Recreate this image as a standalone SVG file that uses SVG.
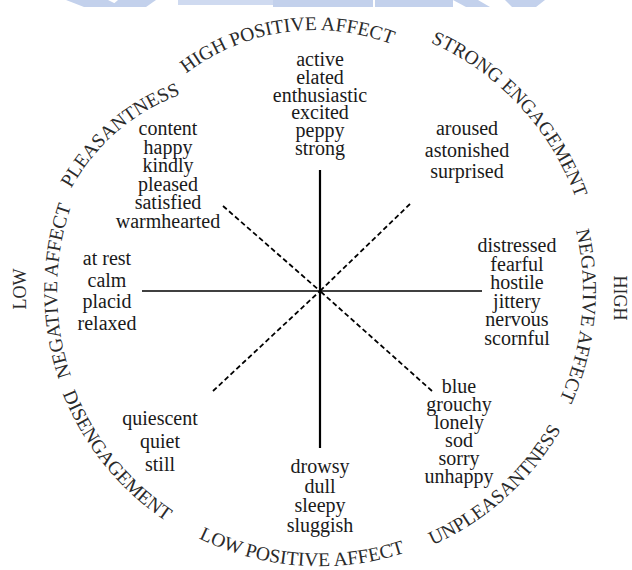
<svg xmlns="http://www.w3.org/2000/svg" xmlns:xlink="http://www.w3.org/1999/xlink" width="632" height="570" viewBox="0 0 632 570">
<style>
.w{font-family:"Liberation Serif","Times New Roman",serif;font-size:20px;fill:#1a1a1a;text-anchor:middle}
.c{font-family:"Liberation Serif","Times New Roman",serif;font-size:19.5px;fill:#2a2a2a}
.ax{stroke:#000;fill:none}
.d{stroke:#000;fill:none;stroke-width:1.8;stroke-dasharray:5 3}
.wm{fill:#c3d1ec}
</style>
<defs>
<path id="p1" d="M118.3,162.9 A212,212 0 0 1 481.8,111.2"/>
<path id="p2" d="M353.2,21.0 A272,272 0 0 1 591.6,276.8"/>
<path id="p3" d="M536.7,142.0 A263,263 0 0 1 504.3,478.6"/>
<path id="p4" d="M329.7,568.8 A278,278 0 0 0 595.3,329.6"/>
<path id="p5" d="M128.4,488.8 A275,275 0 0 0 481.6,513.5"/>
<path id="p6" d="M43.0,286.2 A277,277 0 0 0 267.1,562.9"/>
<path id="p7" d="M151.0,492.5 A263,263 0 0 1 151.0,89.5"/>
<path id="p8" d="M46.0,289.5 A205,205 0 0 1 284.1,84.7"/>
</defs>
<rect width="632" height="570" fill="#fff"/>
<g id="watermark">
<polygon class="wm" points="66,0 108,0 122,7 84,7"/>
<polygon class="wm" points="118,0 156,0 146,7 110,7"/>
<rect class="wm" x="178" y="0" width="95" height="5" opacity="0.8"/>
<rect class="wm" x="273" y="0" width="100" height="7"/>
<rect class="wm" x="375" y="0" width="78" height="7"/>
<polygon class="wm" points="453,0 478,0 490,7 466,7"/>
<polygon class="wm" points="505,0 545,0 536,7 512,7"/>
</g>
<g id="connectors">
<line class="ax" x1="320" y1="170" x2="320" y2="448" stroke-width="2.2"/>
<line class="ax" x1="142" y1="291" x2="482" y2="291" stroke-width="1.5"/>
<line class="d" x1="223" y1="206" x2="320" y2="291"/>
<line class="d" x1="410" y1="204" x2="320" y2="291"/>
<line class="d" x1="213" y1="391" x2="320" y2="291"/>
<line class="d" x1="432" y1="391" x2="320" y2="291"/>
</g>
<g id="ring-labels">
<text class="c"><textPath xlink:href="#p1" href="#p1" startOffset="50%" text-anchor="middle">HIGH POSITIVE AFFECT</textPath></text>
<text class="c"><textPath xlink:href="#p2" href="#p2" startOffset="50%" text-anchor="middle">STRONG ENGAGEMENT</textPath></text>
<text class="c"><textPath xlink:href="#p3" href="#p3" startOffset="50%" text-anchor="middle">NEGATIVE AFFECT</textPath></text>
<text class="c"><textPath xlink:href="#p4" href="#p4" startOffset="50%" text-anchor="middle">UNPLEASANTNESS</textPath></text>
<text class="c"><textPath xlink:href="#p5" href="#p5" startOffset="50%" text-anchor="middle">LOW POSITIVE AFFECT</textPath></text>
<text class="c"><textPath xlink:href="#p6" href="#p6" startOffset="50%" text-anchor="middle">DISENGAGEMENT</textPath></text>
<text class="c"><textPath xlink:href="#p7" href="#p7" startOffset="50%" text-anchor="middle">NEGATIVE AFFECT</textPath></text>
<text class="c"><textPath xlink:href="#p8" href="#p8" startOffset="50%" text-anchor="middle">PLEASANTNESS</textPath></text>
<text class="c" text-anchor="middle" style="font-size:18px" transform="translate(614,298) rotate(90)">HIGH</text>
<text class="c" text-anchor="middle" style="font-size:18px" transform="translate(26,289) rotate(-90)">LOW</text>
</g>
<g id="high-positive">
<text class="w" x="320" y="66">active</text>
<text class="w" x="320" y="84">elated</text>
<text class="w" x="320" y="101.5">enthusiastic</text>
<text class="w" x="320" y="119">excited</text>
<text class="w" x="320" y="137">peppy</text>
<text class="w" x="320" y="155">strong</text>
</g>
<g id="pleasantness">
<text class="w" x="168" y="135">content</text>
<text class="w" x="168" y="153.5">happy</text>
<text class="w" x="168" y="172">kindly</text>
<text class="w" x="168" y="190.5">pleased</text>
<text class="w" x="168" y="209">satisfied</text>
<text class="w" x="168" y="227.5">warmhearted</text>
</g>
<g id="strong-engagement">
<text class="w" x="467" y="135">aroused</text>
<text class="w" x="467" y="156.5">astonished</text>
<text class="w" x="467" y="178">surprised</text>
</g>
<g id="low-negative">
<text class="w" x="107" y="265">at rest</text>
<text class="w" x="107" y="286.5">calm</text>
<text class="w" x="107" y="308">placid</text>
<text class="w" x="107" y="329.5">relaxed</text>
</g>
<g id="high-negative">
<text class="w" x="517" y="252">distressed</text>
<text class="w" x="517" y="270.5">fearful</text>
<text class="w" x="517" y="289">hostile</text>
<text class="w" x="517" y="307.5">jittery</text>
<text class="w" x="517" y="326">nervous</text>
<text class="w" x="517" y="344.5">scornful</text>
</g>
<g id="disengagement">
<text class="w" x="160" y="425">quiescent</text>
<text class="w" x="160" y="448">quiet</text>
<text class="w" x="160" y="471">still</text>
</g>
<g id="unpleasantness">
<text class="w" x="459" y="393">blue</text>
<text class="w" x="459" y="411">grouchy</text>
<text class="w" x="459" y="429">lonely</text>
<text class="w" x="459" y="447">sod</text>
<text class="w" x="459" y="465">sorry</text>
<text class="w" x="459" y="483">unhappy</text>
</g>
<g id="low-positive">
<text class="w" x="320" y="473">drowsy</text>
<text class="w" x="320" y="492.5">dull</text>
<text class="w" x="320" y="512">sleepy</text>
<text class="w" x="320" y="531.5">sluggish</text>
</g>
</svg>
